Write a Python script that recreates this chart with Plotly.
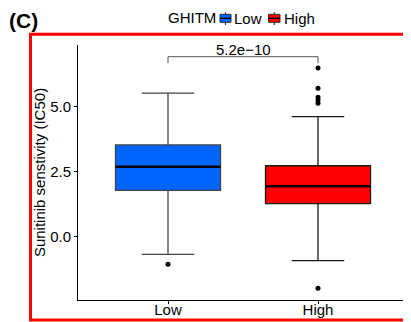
import plotly.graph_objects as go

# ---- data ----
categories = ["Low", "High"]
q1 = [1.78, 1.27]
median = [2.69, 1.94]
q3 = [3.53, 2.73]
lower_whisker = [-0.68, -0.92]
upper_whisker = [5.52, 4.62]
outliers_low = [-1.06]
outliers_high = [6.49, 5.71, 5.36, 5.26, 5.13, -1.98]
p_label = "5.2e\u221210"
bracket_y = 6.92
bracket_tip = 6.67
y_ticks = [0.0, 2.5, 5.0]
y_tick_text = ["0.0", "2.5", "5.0"]
legend_title = "GHITM"

fill_colors = ["#0066FF", "#FF0000"]
line_colors = ["#444444", "#1a1a1a"]
box_w = 0.7
xpos = [1, 2]

# page offset of the figure (default body margin)
OFF = 8
W, H = 411, 322
# plot area on the page: x 78..408, y 45..300
ML = 78 - OFF
MT = 45 - OFF
MR = W - (408 - OFF)
MB = H - (300 - OFF)
PW, PH = W - ML - MR, H - MT - MB


def px(x):
    return (x - OFF - ML) / PW


def py(y):
    return (H - MB - (y - OFF)) / PH


fig = go.Figure()
for i, cat in enumerate(categories):
    fig.add_trace(go.Box(
        x=[xpos[i]], q1=[q1[i]], median=[median[i]], q3=[q3[i]],
        lowerfence=[lower_whisker[i]], upperfence=[upper_whisker[i]],
        name=cat, width=box_w, fillcolor=fill_colors[i],
        line=dict(color=line_colors[i], width=1.3),
        boxpoints=False, hoverinfo="skip", showlegend=False,
    ))
# thicker median lines
for i, cat in enumerate(categories):
    fig.add_trace(go.Scatter(
        x=[xpos[i] - box_w / 2, xpos[i] + box_w / 2], y=[median[i], median[i]],
        mode="lines", line=dict(color="black", width=2.5), showlegend=False,
        hoverinfo="skip"))
# outliers
for i, pts in enumerate([outliers_low, outliers_high]):
    fig.add_trace(go.Scatter(
        x=[xpos[i]] * len(pts), y=pts, mode="markers",
        marker=dict(color="black", size=5), showlegend=False, hoverinfo="skip"))
# significance bracket
fig.add_trace(go.Scatter(
    x=[xpos[0], xpos[0], xpos[1], xpos[1]],
    y=[bracket_tip, bracket_y, bracket_y, bracket_tip],
    mode="lines", line=dict(color="#555555", width=1), showlegend=False,
    hoverinfo="skip"))
fig.add_annotation(x=(xpos[0] + xpos[1]) / 2, y=bracket_y, text=p_label,
                   showarrow=False, yanchor="bottom", yshift=-3,
                   font=dict(size=15, color="black"))

# panel label and red frame
fig.add_annotation(xref="paper", yref="paper", x=px(8), y=py(8),
                   xanchor="left", yanchor="top", text="<b>(C)</b>",
                   borderpad=0, showarrow=False,
                   font=dict(size=21, color="black"))
fig.add_shape(type="rect", xref="paper", yref="paper",
              x0=px(30.5), x1=px(425), y0=py(320), y1=py(34.3),
              line=dict(color="#FF0000", width=3), fillcolor="rgba(0,0,0,0)",
              layer="below")

# legend (drawn in the style of ggplot's top legend)
fig.add_annotation(xref="paper", yref="paper", x=px(166), y=py(17.5),
                   xanchor="left", yanchor="middle", text=legend_title,
                   showarrow=False, font=dict(size=15, color="black"))
icon_x = [(220, 231), (268.5, 280)]
label_x = [232, 282]
for i, cat in enumerate(categories):
    x0, x1 = icon_x[i]
    xc = (x0 + x1) / 2
    fig.add_shape(type="line", xref="paper", yref="paper",
                  x0=px(xc), x1=px(xc), y0=py(12.3), y1=py(25),
                  line=dict(color="#333333", width=1.2))
    fig.add_shape(type="rect", xref="paper", yref="paper",
                  x0=px(x0), x1=px(x1), y0=py(14.3), y1=py(22.3),
                  line=dict(color="#333333", width=1), fillcolor=fill_colors[i])
    fig.add_shape(type="line", xref="paper", yref="paper",
                  x0=px(x0), x1=px(x1), y0=py(18.3), y1=py(18.3),
                  line=dict(color="black", width=1.3))
    fig.add_annotation(xref="paper", yref="paper", x=px(label_x[i]), y=py(18.3),
                       xanchor="left", yanchor="middle", text=cat,
                       showarrow=False, font=dict(size=15, color="black"))

fig.update_layout(
    width=W, height=H,
    margin=dict(l=ML, r=MR, t=MT, b=MB, autoexpand=False),
    paper_bgcolor="white", plot_bgcolor="rgba(0,0,0,0)",
    font=dict(family="Liberation Sans, Arial, sans-serif", color="black"),
    boxmode="overlay", showlegend=False,
    xaxis=dict(range=[0.4, 2.6], tickvals=xpos, ticktext=categories,
               showline=True, linecolor="black", linewidth=1,
               ticks="outside", ticklen=3, tickcolor="black",
               ticklabelstandoff=-7,
               showgrid=False, zeroline=False, tickfont=dict(size=15)),
    yaxis=dict(range=[-2.43, 7.37], tickvals=y_ticks, ticktext=y_tick_text,
               showline=True, linecolor="black", linewidth=1,
               ticks="outside", ticklen=3, tickcolor="black",
               showgrid=False, zeroline=False, tickfont=dict(size=15),
               title=dict(text="Sunitinib senstivity (IC50)", font=dict(size=15),
                          standoff=0)),
)

fig.write_html("out.html")
